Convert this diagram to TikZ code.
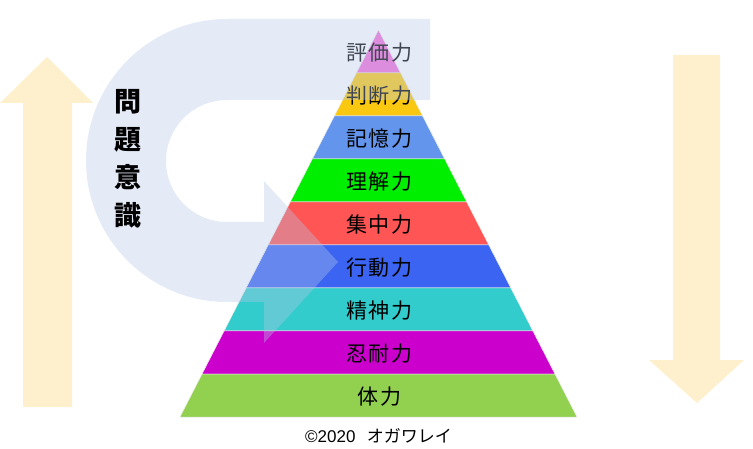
\documentclass[tikz,border=0pt]{standalone}
\usepackage{fontspec}
\setmainfont{Noto Sans CJK JP}
\newfontfamily\latinsans{Liberation Sans}
\definecolor{cream}{HTML}{FFF0CD}
\definecolor{ublue}{HTML}{B4C7E7}
\definecolor{p1}{HTML}{F56DD8}
\definecolor{p2}{HTML}{FAC811}
\definecolor{p3}{HTML}{6495ED}
\definecolor{p4}{HTML}{00EE00}
\definecolor{p5}{HTML}{FF5555}
\definecolor{p6}{HTML}{3B64F2}
\definecolor{p7}{HTML}{33CCCC}
\definecolor{p8}{HTML}{CC00CC}
\definecolor{p9}{HTML}{92D050}
\begin{document}
\begin{tikzpicture}[x=1pt,y=-1pt,
  lbl/.style={font=\fontsize{21}{21}\selectfont\addfontfeature{LetterSpace=9}, text=black, inner sep=0pt},
  bigarrow/.style={fill=cream},
  layer/.style={draw=white!85!gray, line width=0.5pt}]
\useasboundingbox (0,0) rectangle (753,449);
% cream arrows
\fill[bigarrow] (23,407) -- (23,103) -- (0,103) -- (47,57) -- (93,103) -- (72,103) -- (72,407) -- cycle;
\fill[bigarrow] (673,55) -- (720,55) -- (720,360) -- (744,360) -- (697,403) -- (649,360) -- (673,360) -- cycle;
% pyramid
\foreach \col/\txt [count=\i from 0] in {p1/評価力,p2/判断力,p3/記憶力,p4/理解力,p5/集中力,p6/行動力,p7/精神力,p8/忍耐力,p9/体力}{
  \pgfmathsetmacro\ya{30+43*\i}
  \pgfmathsetmacro\yb{73+43*\i}
  \pgfmathsetmacro\ha{0.51292*(\ya-30)}
  \pgfmathsetmacro\hb{0.51292*(\yb-30)}
  \filldraw[layer, fill=\col] ({378.5-\ha},\ya) -- ({378.5+\ha},\ya) -- ({378.5+\hb},\yb) -- ({378.5-\hb},\yb) -- cycle;
  \node[lbl] (L\i) at (379.5,{52.5+43*\i}) {\txt};
}
% U-turn arrow
\fill[ublue, opacity=0.36] (430,19) -- (227,19)
  .. controls (149.1,19) and (86,82.6) .. (86,160.5)
  .. controls (86,238.4) and (149.1,302) .. (227,302)
  -- (264,302) -- (264,343) -- (338,262) -- (264,181) -- (264,222) -- (227,222)
  .. controls (193.3,222) and (166,194.7) .. (166,161)
  .. controls (166,127.3) and (193.3,100) .. (227,100)
  -- (430,100) -- cycle;
\node[font=\fontsize{27}{38}\selectfont\bfseries, align=center, inner sep=0pt] (mondai) at (128,159) {問\\題\\意\\識};
\node[font=\fontsize{17}{17}\selectfont, inner sep=0pt] (copy) at (378.5,436) {{\latinsans ©2020}\ \ \ オガワレイ};
\end{tikzpicture}
\end{document}
